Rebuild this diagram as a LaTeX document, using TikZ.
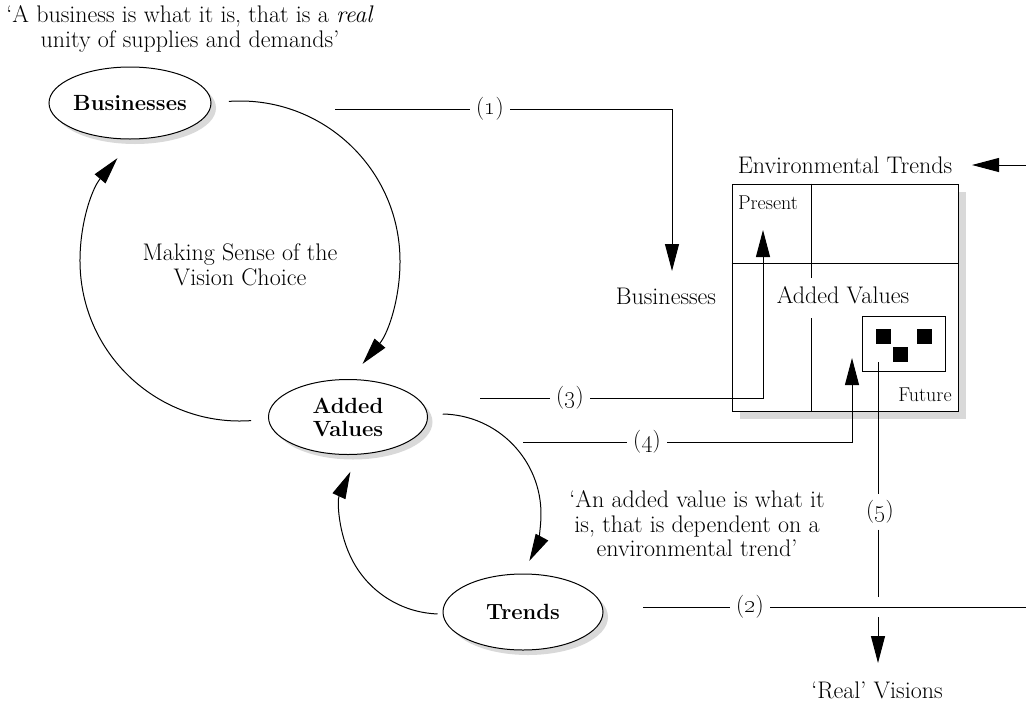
\documentclass[tikz,border=0pt]{standalone}
\usepackage{tikz}
\usetikzlibrary{arrows.meta,shapes.geometric,shadows}

\tikzset{
  flow/.style={-{Triangle[length=27pt,width=14pt]}, line width=1pt},
  link/.style={line width=1pt},
  actor/.style={ellipse, draw, line width=1pt, fill=white, inner sep=0pt, align=center,
    font=\fontsize{22}{23}\selectfont\bfseries,
    drop shadow={shadow xshift=5pt, shadow yshift=-5pt, fill=black!15, opacity=1}},
  lbl/.style={font=\fontsize{24}{24.5}\selectfont, align=center, inner sep=0pt},
  smalllbl/.style={font=\fontsize{20}{22}\selectfont, inner sep=0pt},
  numlbl/.style={font=\fontsize{23}{24}\selectfont, inner sep=6pt},
}

\begin{document}
\begin{tikzpicture}[x=1pt, y=-1pt]
  \useasboundingbox (0,0) rectangle (1026,702);

  % Quotes
  \node[lbl] (bizquote) at (190,29) {‘A business is what it is, that is a \textit{real}\\ unity of supplies and demands’};
  \node[lbl] (avquote) at (697,524) {‘An added value is what it\\ is, that is dependent on a\\ environmental trend’};

  % Vision choice cycle
  \node[actor, minimum width=162pt, minimum height=72pt] (biz) at (130,103) {Businesses};
  \node[actor, minimum width=159pt, minimum height=75pt] (av) at (348,417) {Added\\ Values};
  \node[actor, minimum width=160pt, minimum height=76pt] (trends) at (523,612) {Trends};
  \node[lbl] (sense) at (240,265) {Making Sense of the\\ Vision Choice};

  \coordinate (bigloop) at (240,261);
  \coordinate (smallloop) at (441,514);
  \draw[flow] (bigloop) ++(266:160) arc[start angle=266, end angle=400, radius=160];
  \draw[flow] (bigloop) ++(86:160) arc[start angle=86, end angle=220, radius=160];
  \draw[flow] (smallloop) ++(271:100) arc[start angle=271, end angle=388, radius=100];
  \draw[flow] (smallloop) ++(92:100) arc[start angle=92, end angle=205, radius=100];

  % Environmental trends matrix
  \node[lbl] (envlbl) at (845,165) {Environmental Trends};
  \node[draw, line width=1pt, fill=white, inner sep=0pt, minimum width=226pt, minimum height=227pt,
    drop shadow={shadow xshift=8pt, shadow yshift=-8pt, fill=black!15, opacity=1}] (tbox) at (845,297.5) {};
  \draw[link] ([yshift=-80pt]tbox.north west) -- ([yshift=-80pt]tbox.north east);
  \draw[link] ([xshift=80pt]tbox.north west) -- ++(0,94);
  \draw[link] ([xshift=80pt]tbox.south west) -- ++(0,-94);
  \node[smalllbl] (present) at (768,203) {Present};
  \node[smalllbl] (future) at (925,395) {Future};
  \node[lbl] (avlbl) at (843,295) {Added Values};
  \node[draw, line width=1pt, inner sep=0pt, minimum width=83pt, minimum height=55pt] (fbox) at (903.5,343.5) {};
  \foreach \i/\p in {1/{(883.5,336.5)}, 2/{(924.5,336.5)}, 3/{(900.5,354.5)}}
    \node[fill=black, inner sep=0pt, minimum size=15pt] (sq\i) at \p {};

  \node[lbl] (bizlbl) at (666,296) {Businesses};
  \node[lbl] (visions) at (877,690) {‘Real’ Visions};

  % Numbered links
  \node[numlbl] (n1) at (490,109) {(\oldstylenums{1})};
  \node[numlbl] (n2) at (750,607) {(\oldstylenums{2})};
  \node[numlbl] (n3) at (570,398) {(\oldstylenums{3})};
  \node[numlbl] (n4) at (647,442) {(\oldstylenums{4})};
  \node[numlbl] (n5) at (880,512) {(\oldstylenums{5})};

  \coordinate (s1) at (335,109);
  \coordinate (e1) at (672,271);
  \draw[link] (s1) -- (n1.west);
  \draw[flow] (n1.east) -| (e1);

  \coordinate (s2) at (643,607);
  \coordinate (e2) at (1026,607);
  \draw[link] (s2) -- (n2.west);
  \draw[link] (n2.east) -- (e2);

  \coordinate (s3) at (480,398);
  \coordinate (e3) at (763,230);
  \draw[link] (s3) -- (n3.west);
  \draw[flow] (n3.east) -| (e3);

  \coordinate (s4) at (523,442);
  \coordinate (e4) at (852,358);
  \draw[link] (s4) -- (n4.west);
  \draw[flow] (n4.east) -| (e4);

  \coordinate (s5) at (878,362);
  \coordinate (j5a) at (878,597);
  \coordinate (j5b) at (878,617);
  \coordinate (e5) at (878,663);
  \draw[link] (s5) -- (s5 |- n5.north);
  \draw[link] (s5 |- n5.south) -- (j5a);
  \draw[flow] (j5b) -- (e5);

  \coordinate (envin) at (1026,165);
  \coordinate (envtip) at (972,165);
  \draw[flow] (envin) -- (envtip);
\end{tikzpicture}
\end{document}
